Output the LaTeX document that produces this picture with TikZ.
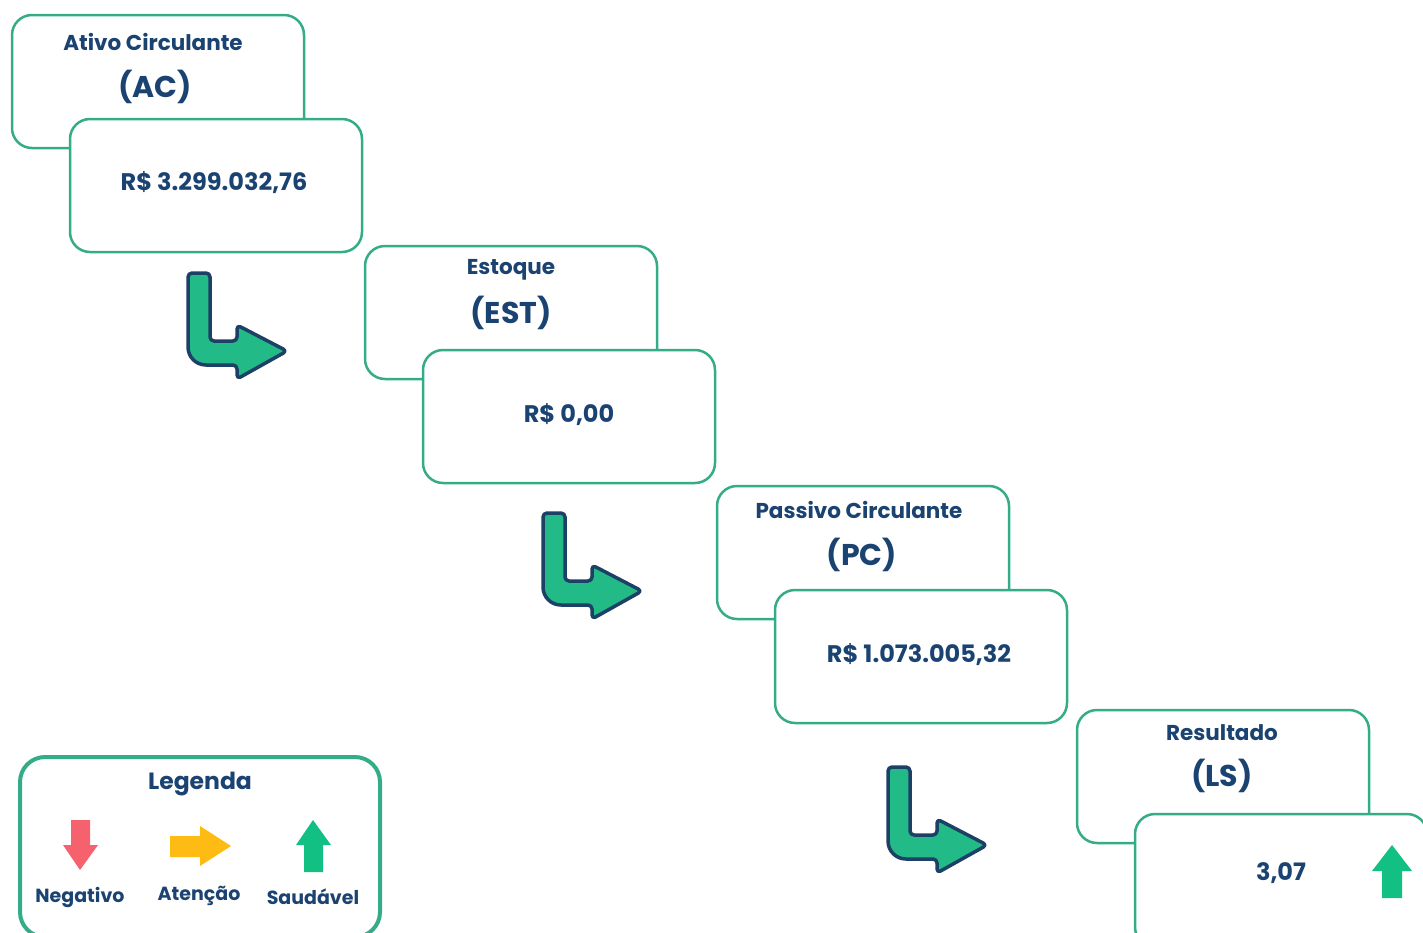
\documentclass[tikz,border=0pt]{standalone}
\usepackage{fontspec}
\setmainfont{Poppins}
\usetikzlibrary{positioning}
\definecolor{navy}{RGB}{27,67,114}
\definecolor{boxgreen}{RGB}{52,172,136}
\definecolor{arrowgreen}{RGB}{34,186,134}
\definecolor{arrownavy}{RGB}{29,64,102}
\definecolor{negred}{RGB}{245,98,110}
\definecolor{attyellow}{RGB}{253,187,20}
\definecolor{okgreen}{RGB}{19,192,131}

\begin{document}
\begin{tikzpicture}[x=1pt,y=-1pt,
	labelbox/.style={draw=boxgreen,line width=2.5pt,rounded corners=20pt,fill=white,minimum width=292pt,minimum height=133pt,inner sep=0pt},
	titletext/.style={text=navy,font=\fontsize{21.5}{25}\selectfont\bfseries},
	abbrtext/.style={text=navy,font=\fontsize{30}{36}\selectfont\bfseries},
	valuetext/.style={text=navy,font=\fontsize{24}{28}\selectfont\bfseries},
	legendtext/.style={text=navy,font=\fontsize{19}{23}\selectfont\bfseries},
	bentarrow/.style={fill=arrowgreen,draw=arrownavy,line width=3.5pt,line join=round}]
	\useasboundingbox (0,0) rectangle (1423,932);
	
	\begin{scope}[shift={(12,15)}]
	\node[labelbox] (AC) at (146,66.5) {};
	\node[labelbox] (ACval) at (204,170.5) {};
	\node[titletext] (ACtitle) at (141,27) {Ativo Circulante};
	\node[abbrtext] (ACabbr) at (143,72) {(AC)};
	\node[valuetext] (ACnum) at (202,168) {R\$ 3.299.032,76};
	\end{scope}
	
	\begin{scope}[shift={(365,246)}]
	\node[labelbox] (EST) at (146,66.5) {};
	\node[labelbox] (ESTval) at (204,170.5) {};
	\node[titletext] (ESTtitle) at (146,24) {Estoque};
	\node[abbrtext] (ESTabbr) at (146,67) {(EST)};
	\node[valuetext] (ESTnum) at (204,169) {R\$ 0,00};
	\end{scope}
	
	\begin{scope}[shift={(717,486)}]
	\node[labelbox] (PC) at (146,66.5) {};
	\node[labelbox] (PCval) at (204,170.5) {};
	\node[titletext] (PCtitle) at (142,24) {Passivo Circulante};
	\node[abbrtext] (PCabbr) at (145,69) {(PC)};
	\node[valuetext] (PCnum) at (202,169) {R\$ 1.073.005,32};
	\end{scope}
	
	\begin{scope}[shift={(1077,710)}]
	\node[labelbox] (LS) at (146,66.5) {};
	\node[labelbox] (LSval) at (204,170.5) {};
	\node[titletext] (LStitle) at (145,23) {Resultado};
	\node[abbrtext] (LSabbr) at (145,66) {(LS)};
	\node[valuetext] (LSnum) at (204,163) {3,07};
	\fill[okgreen] (305,188) -- (325,188) -- (325,161) -- (335,161) -- (315,135) -- (295,161) -- (305,161) -- cycle;
	\end{scope}
	
	% bent arrows between the stages
	\foreach \p in {(188,273),(543,513),(888,767)}
	\filldraw[bentarrow,shift={\p}] (0,40) [rounded corners=4pt] -- (0,0) -- (22,0) -- (22,68) -- (49,68) -- (49,52) -- (99,78) -- (49,106) -- (49,92) [sharp corners] -- (18,92) .. controls (8,92) and (0,84) .. (0,74) -- cycle;
	
	% legend
	\node[draw=boxgreen,line width=4pt,rounded corners=25pt,minimum width=360pt,minimum height=180pt,inner sep=0pt] (legend) at (200,847) {};
	\node[text=navy,font=\fontsize{23.5}{28}\selectfont\bfseries] (legtitle) at (200,784) {Legenda};
	\fill[negred] (71,820) -- (90,820) -- (90,845) -- (98,845) -- (80,870) -- (63,845) -- (71,845) -- cycle;
	\fill[attyellow] (170,836) -- (200,836) -- (200,826) -- (231,846) -- (200,866) -- (200,857) -- (170,857) -- cycle;
	\fill[okgreen] (304,872) -- (323,872) -- (323,845) -- (331,845) -- (313,820) -- (296,845) -- (304,845) -- cycle;
	\node[legendtext] (neg) at (80,897) {Negativo};
	\node[legendtext] (att) at (199,896) {Atenção};
	\node[legendtext] (ok) at (313,897) {Saudável};
\end{tikzpicture}
\end{document}
